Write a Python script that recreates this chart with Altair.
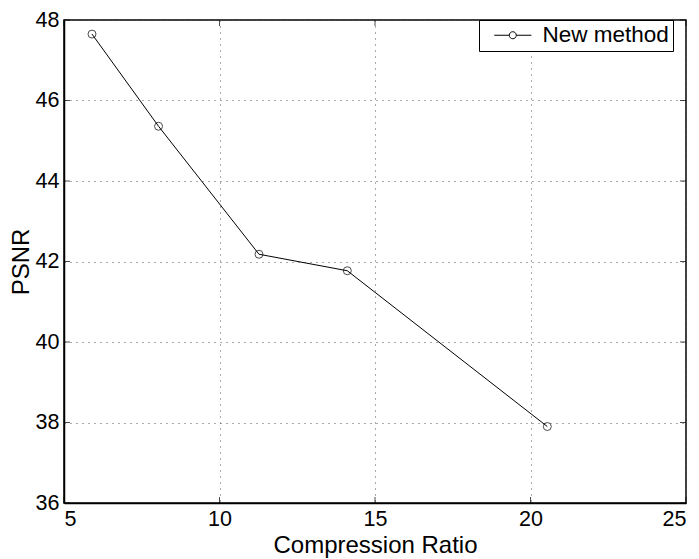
import altair as alt
import pandas as pd

# data
ratio = [5.90, 8.04, 11.27, 14.11, 20.54]
psnr = [47.65, 45.36, 42.18, 41.77, 37.90]
series = ["New method"] * 5
x_ticks = [5, 10, 15, 20, 25]
y_ticks = [36, 38, 40, 42, 44, 46, 48]

df = pd.DataFrame({"ratio": ratio, "psnr": psnr, "series": series})
xt = pd.DataFrame({"v": x_ticks})
yt = pd.DataFrame({"v": y_ticks})

FONT = "Liberation Sans"
xs = alt.Scale(domain=[5, 25], nice=False, zero=False)
ys = alt.Scale(domain=[36, 48], nice=False, zero=False)

# legend glyph: short line with a hollow circle (units of sqrt(size)/2)
legend_symbol = ("M0,0L2.0,0 M2.94,0L4.95,0 "
                 "M2.0,0A0.47,0.47 0 1,1 2.94,0A0.47,0.47 0 1,1 2.0,0Z")

color = alt.Color(
    "series:N",
    scale=alt.Scale(range=["black"]),
    legend=alt.Legend(
        title=None, orient="none", legendX=415, legendY=0,
        strokeColor="black", fillColor="white", padding=4,
        symbolType=legend_symbol, symbolSize=225, symbolStrokeWidth=1,
        symbolFillColor="transparent", symbolStrokeColor="black",
        labelFont=FONT, labelFontSize=22.5, labelColor="black", labelOffset=37,
        cornerRadius=0,
    ),
)

xaxis = alt.Axis(values=x_ticks, grid=True, tickSize=0, labelPadding=5,
                 titlePadding=4)
yaxis = alt.Axis(values=y_ticks, grid=True, tickSize=0, labelPadding=5,
                 titlePadding=2)

base = alt.Chart(df)
line = base.mark_line(color="black", strokeWidth=1).encode(
    x=alt.X("ratio:Q", scale=xs, title="Compression Ratio", axis=xaxis),
    y=alt.Y("psnr:Q", scale=ys, title="PSNR", axis=yaxis),
    color=color,
)
pts = base.mark_point(shape="circle", filled=False, size=64, color="black",
                      strokeWidth=1).encode(
    x=alt.X("ratio:Q", scale=xs, title="Compression Ratio", axis=xaxis),
    y=alt.Y("psnr:Q", scale=ys, title="PSNR", axis=yaxis))

tick_style = dict(color="black", thickness=1, size=6)
xb = alt.Chart(xt).mark_tick(orient="vertical", yOffset=-3, **tick_style).encode(
    x=alt.X("v:Q", scale=xs, title="Compression Ratio", axis=xaxis),
    y=alt.datum(36, scale=ys))
xtp = alt.Chart(xt).mark_tick(orient="vertical", yOffset=3, **tick_style).encode(
    x=alt.X("v:Q", scale=xs, title="Compression Ratio", axis=xaxis),
    y=alt.datum(48, scale=ys))
yl = alt.Chart(yt).mark_tick(orient="horizontal", xOffset=3, **tick_style).encode(
    y=alt.Y("v:Q", scale=ys, title="PSNR", axis=yaxis),
    x=alt.datum(5, scale=xs))
yr = alt.Chart(yt).mark_tick(orient="horizontal", xOffset=-3, **tick_style).encode(
    y=alt.Y("v:Q", scale=ys, title="PSNR", axis=yaxis),
    x=alt.datum(25, scale=xs))

chart = alt.layer(line, pts, xb, xtp, yl, yr).properties(
    width=622, height=483,
    background="white",
    autosize=alt.AutoSizeParams(type="none"),
    padding={"left": 56, "top": 12, "right": 5, "bottom": 56},
).configure_view(stroke="black", strokeWidth=1.5).configure_axis(
    labelFont=FONT, labelFontSize=21.5, labelColor="black",
    titleFont=FONT, titleFontSize=24, titleFontWeight="normal", titleColor="black",
    domainColor="black", domainWidth=1.5,
    gridColor="#555555", gridDash=[1, 5], gridWidth=1, gridOpacity=1,
).configure_axisY(labelBaseline="middle")

chart.save("out.html", embed_options={"renderer": "svg", "actions": False})
